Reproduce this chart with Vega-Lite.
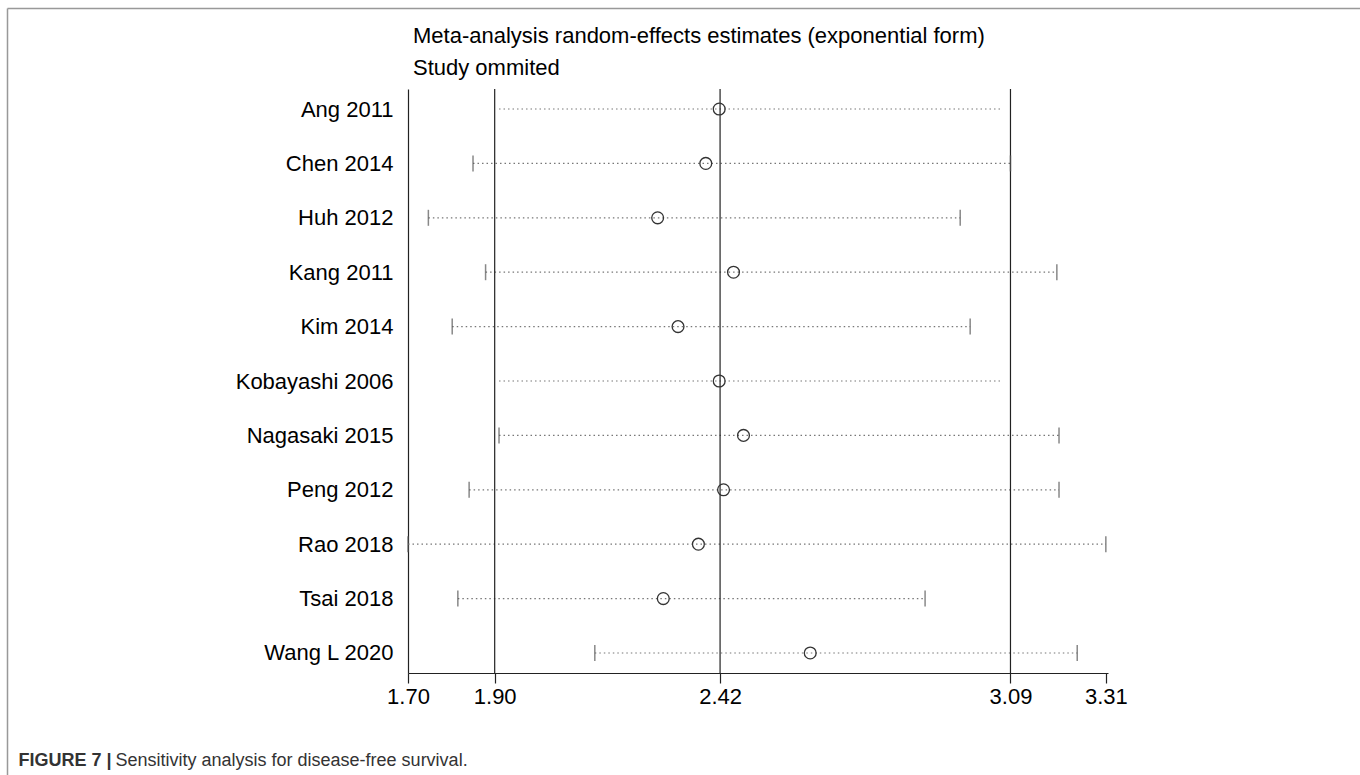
{
  "$schema": "https://vega.github.io/schema/vega-lite/v6.json",
  "width": 700,
  "height": 584,
  "autosize": "none",
  "padding": {"left": 408, "top": 89, "right": 252, "bottom": 102},
  "background": "white",
  "config": {"font": "Liberation Sans", "view": {"stroke": null}},
  "title": {
    "text": ["Meta-analysis random-effects estimates (exponential form)", "Study ommited"],
    "anchor": "start",
    "frame": "group",
    "fontSize": 22,
    "fontWeight": "normal",
    "color": "black",
    "lineHeight": 32,
    "offset": -72,
    "dx": 5,
    "font": "Liberation Sans"
  },
  "datasets": {
    "studies": [
      {"study": "Ang 2011", "es": 2.418, "lo": 1.910, "hi": 3.068},
      {"study": "Chen 2014", "es": 2.387, "lo": 1.850, "hi": 3.090},
      {"study": "Huh 2012", "es": 2.276, "lo": 1.747, "hi": 2.974},
      {"study": "Kang 2011", "es": 2.451, "lo": 1.879, "hi": 3.197},
      {"study": "Kim 2014", "es": 2.323, "lo": 1.802, "hi": 2.997},
      {"study": "Kobayashi 2006", "es": 2.418, "lo": 1.910, "hi": 3.068},
      {"study": "Nagasaki 2015", "es": 2.474, "lo": 1.910, "hi": 3.202},
      {"study": "Peng 2012", "es": 2.428, "lo": 1.841, "hi": 3.202},
      {"study": "Rao 2018", "es": 2.370, "lo": 1.700, "hi": 3.310},
      {"study": "Tsai 2018", "es": 2.289, "lo": 1.815, "hi": 2.893},
      {"study": "Wang L 2020", "es": 2.628, "lo": 2.131, "hi": 3.244}
    ],
    "refs": [{"v": 1.90}, {"v": 2.42}, {"v": 3.09}],
    "frame": [{"f": 0}]
  },
  "layer": [
    {
      "layer": [
        {
          "data": {"name": "studies"},
          "mark": {"type": "rule", "strokeDash": [1.5, 3], "color": "#777", "strokeWidth": 1.2},
          "encoding": {
            "y": {
              "field": "study", "type": "nominal", "sort": null,
              "scale": {"type": "point", "padding": 0.368},
              "axis": {"title": null, "ticks": false, "grid": false, "domainColor": "#222", "domainWidth": 1.2,
                       "labelFontSize": 22, "labelColor": "black", "labelPadding": 15, "labelLimit": 400}
            },
            "x": {
              "field": "lo", "type": "quantitative",
              "scale": {"domain": [1.70, 3.315], "nice": false, "zero": false},
              "axis": {
                "values": [1.70, 1.90, 2.42, 3.09, 3.31], "format": ".2f", "grid": false,
                "domainColor": "#222", "domainWidth": 1.2, "tickColor": "#222", "tickSize": 10, "tickWidth": 1.2,
                "labelFontSize": 22, "labelColor": "black", "labelPadding": 3, "labelFlush": false, "labelOverlap": false,
                "title": "FIGURE 7 |", "titleFontSize": 18, "titleFontWeight": "bold", "titleColor": "#333",
                "titleAlign": "left", "titleAnchor": "start", "titleX": -390, "titleY": 92, "titleBaseline": "alphabetic"
              }
            },
            "x2": {"field": "hi"}
          }
        },
        {
          "data": {"name": "refs"},
          "mark": {"type": "rule", "color": "#222", "strokeWidth": 1.2},
          "encoding": {"x": {"field": "v", "type": "quantitative"}}
        },
        {
          "data": {"name": "studies"},
          "transform": [{"filter": "datum.study !== 'Ang 2011' && datum.study !== 'Kobayashi 2006'"}],
          "mark": {"type": "tick", "orient": "vertical", "size": 16, "thickness": 1.5, "color": "#555"},
          "encoding": {
            "y": {"field": "study", "type": "nominal", "sort": null},
            "x": {"field": "lo", "type": "quantitative"}
          }
        },
        {
          "data": {"name": "studies"},
          "transform": [{"filter": "datum.study !== 'Ang 2011' && datum.study !== 'Kobayashi 2006'"}],
          "mark": {"type": "tick", "orient": "vertical", "size": 16, "thickness": 1.5, "color": "#555"},
          "encoding": {
            "y": {"field": "study", "type": "nominal", "sort": null},
            "x": {"field": "hi", "type": "quantitative"}
          }
        },
        {
          "data": {"name": "studies"},
          "mark": {"type": "point", "shape": "circle", "filled": false, "size": 140, "strokeWidth": 1.3, "color": "#333", "opacity": 1},
          "encoding": {
            "y": {"field": "study", "type": "nominal", "sort": null},
            "x": {"field": "es", "type": "quantitative"}
          }
        }
      ]
    },
    {
      "data": {"name": "frame"},
      "mark": {"type": "point", "opacity": 0},
      "encoding": {
        "x": {
          "field": "f", "type": "quantitative",
          "scale": {"domain": [0, 1], "range": [-401, 952]},
          "axis": {"orient": "top", "offset": 81, "domainColor": "#999", "domainWidth": 1.5, "ticks": false, "labels": false, "grid": false,
                   "title": "Sensitivity analysis for disease-free survival.", "titleFontSize": 18, "titleFontWeight": "normal", "titleColor": "#333",
                   "titleAlign": "left", "titleAnchor": "start", "titleX": -293, "titleY": 757, "titleBaseline": "alphabetic"}
        },
        "y": {
          "field": "f", "type": "quantitative",
          "scale": {"domain": [0, 1], "range": [700, -81]},
          "axis": {"orient": "left", "offset": 401, "domainColor": "#999", "domainWidth": 1.5, "ticks": false, "labels": false, "grid": false, "title": null}
        }
      }
    }
  ],
  "resolve": {
    "scale": {"x": "independent", "y": "independent"},
    "axis": {"x": "independent", "y": "independent"}
  }
}
